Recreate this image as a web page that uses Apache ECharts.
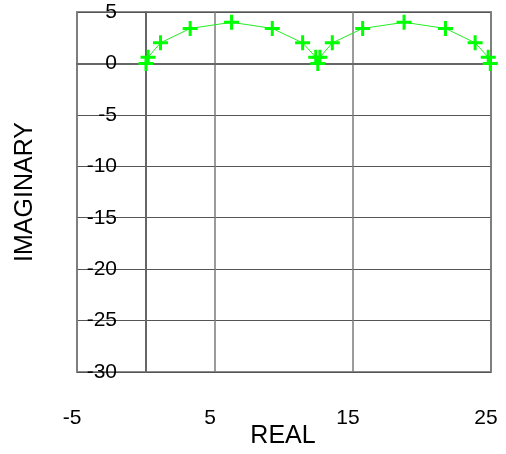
<!DOCTYPE html>
<html>
<head>
<meta charset="utf-8">
<script src="https://cdn.jsdelivr.net/npm/echarts@6/dist/echarts.min.js"></script>
<style>html,body{margin:0;padding:0;background:#fff}#c{width:506px;height:454px}</style>
</head>
<body>
<div id="c"></div>
<script>
// Data
var realValues = [0, 0.15, 1.05, 3.2, 6.2, 9.15, 11.35, 12.3, 12.45, 12.6, 13.5, 15.7, 18.7, 21.7, 23.85, 24.8, 24.95];
var imagValues = [0, 0.6, 2, 3.4, 4, 3.4, 2, 0.6, 0, 0.6, 2, 3.4, 4, 3.4, 2, 0.6, 0];
var xTicks = [-5, 5, 15, 25];
var yTicks = [5, 0, -5, -10, -15, -20, -25, -30];
var xName = 'REAL';
var yName = 'IMAGINARY';

var points = realValues.map(function (x, i) { return [x, imagValues[i]]; });
var plus = 'path://M4,0L6,0L6,4L10,4L10,6L6,6L6,10L4,10L4,6L0,6L0,4L4,4Z';
var font = 'Liberation Sans, Arial, sans-serif';

var chart = echarts.init(document.getElementById('c'), null, {renderer: 'canvas'});
chart.setOption({
  animation: false,
  grid: {left: 77, right: 15, top: 12, bottom: 82, outerBoundsMode: 'none',
    show: true, borderColor: '#8a8a8a', borderWidth: 2, backgroundColor: 'transparent'},
  graphic: [
    {type: 'text', x: 25, y: 192, rotation: Math.PI / 2, z: 10,
      style: {text: yName, font: '25px ' + font, fill: '#000', align: 'center', verticalAlign: 'middle'}},
    {type: 'text', x: 283, y: 436, z: 10,
      style: {text: xName, font: '25px ' + font, fill: '#000', align: 'center', verticalAlign: 'middle'}}
  ],
  xAxis: {
    type: 'value', min: xTicks[0], max: xTicks[xTicks.length - 1], interval: 10,
    axisLine: {show: true, onZero: true, lineStyle: {color: '#666', width: 2}},
    axisTick: {show: false},
    axisLabel: {fontFamily: font, fontSize: 21, color: '#000', margin: 36, padding: [0, 10, 0, 0]},
    splitLine: {show: true, lineStyle: {color: '#7a7a7a', width: 1.5}}
  },
  yAxis: {
    type: 'value', min: yTicks[yTicks.length - 1], max: yTicks[0], interval: 5,
    position: 'left', offset: -40,
    axisLine: {show: true, onZero: true, lineStyle: {color: '#666', width: 2}},
    axisTick: {show: false},
    axisLabel: {margin: 0, fontFamily: font, fontSize: 21, color: '#000'},
    splitLine: {show: true, lineStyle: {color: '#555', width: 1}}
  },
  series: [{
    type: 'line',
    data: points,
    clip: false,
    symbol: plus,
    symbolSize: 15,
    showAllSymbol: true,
    lineStyle: {color: '#22ee22', width: 1},
    itemStyle: {color: '#00ff00'},
    z: 5
  }]
});
</script>
</body>
</html>
